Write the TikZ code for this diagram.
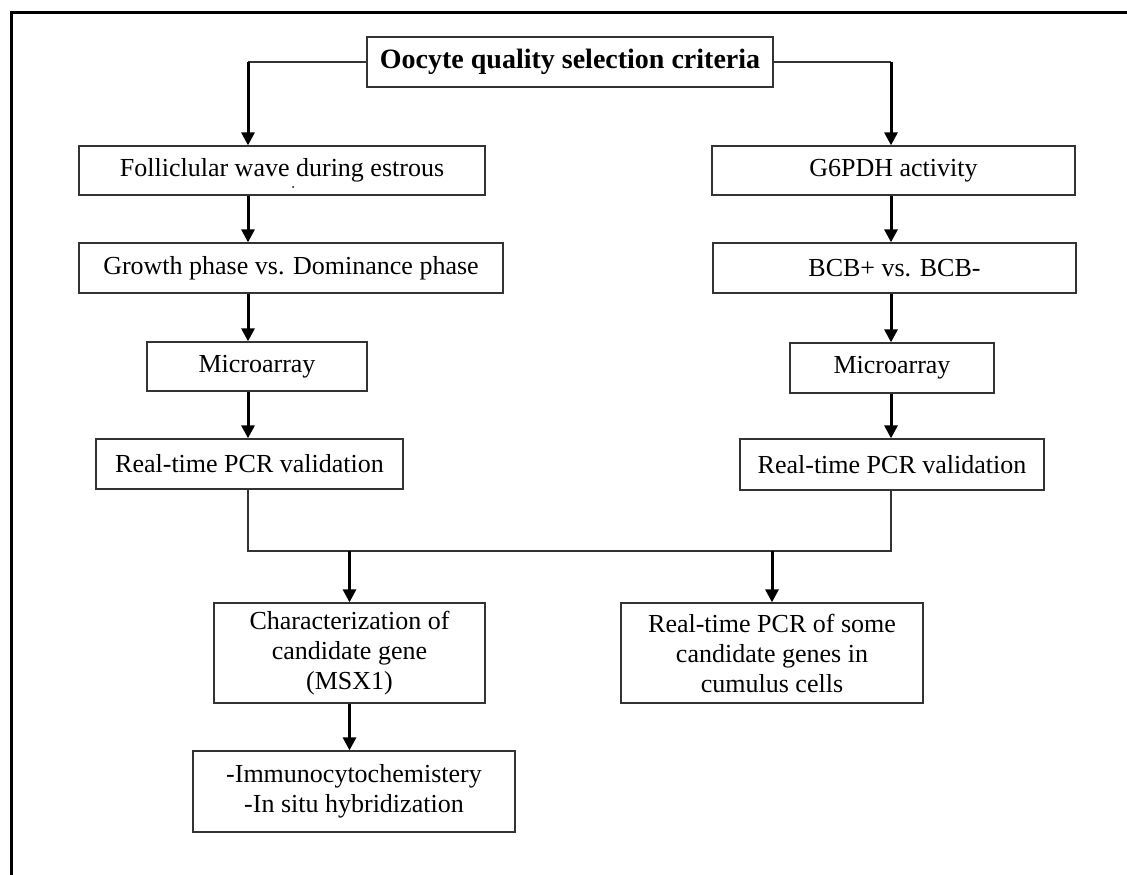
\documentclass[tikz,border=0pt]{standalone}
\usepackage{fontspec}
\setmainfont{Liberation Serif}
\usetikzlibrary{arrows.meta,positioning}

\begin{document}
\begin{tikzpicture}[
  x=1pt,y=-1pt,
  box/.style={draw=black!80,line width=1.3pt,align=center,inner sep=2pt,
    font=\fontsize{26}{30}\selectfont},
  link/.style={draw=black!80,line width=1.3pt},
  flow/.style={draw,->,line width=3pt},
  >={Triangle[length=13pt,width=13pt]}
]
\useasboundingbox (0,0) rectangle (1127,875);
% frame
\draw[line width=3pt] (11,875) -- (11,13) -- (1127,13);

% columns
\coordinate (colL) at (248,0);
\coordinate (colR) at (891,0);
\coordinate (mrg) at (0,551);

% top
\node[box,minimum width=406pt,minimum height=50pt,font=\fontsize{28}{32}\selectfont\bfseries] (crit) at (570,62) {Oocyte quality selection criteria};

% left branch
\node[box,minimum width=406pt,minimum height=49pt] (wave) at (282,170.5) {Folliclular wave during estrous};
\fill (293,187) circle (1pt);
\node[box,minimum width=424pt,minimum height=50pt] (phase) at (291,268) {Growth phase vs. Dominance phase};
\node[box,minimum width=220pt,minimum height=49pt] (arrL) at (257,366.5) {Microarray};
\node[box,minimum width=307pt,minimum height=50pt] (pcrL) at (249.5,464) {Real-time PCR validation};

% right branch
\node[box,minimum width=363pt,minimum height=49pt] (gpdh) at (893.5,170.5) {G6PDH activity};
\node[box,minimum width=363pt,minimum height=50pt] (bcb) at (894.5,268) {BCB+ vs. BCB-};
\node[box,minimum width=204pt,minimum height=50pt] (arrR) at (892,368) {Microarray};
\node[box,minimum width=304pt,minimum height=51pt] (pcrR) at (892,464.5) {Real-time PCR validation};

% bottom
\node[box,minimum width=271pt,minimum height=100pt] (gene) at (349.5,653) {Characterization of\\candidate gene\\(MSX1)};
\node[box,minimum width=302pt,minimum height=100pt] (cum) at (772,653) {Real-time PCR of some\\candidate genes in\\cumulus cells};
\node[box,minimum width=322pt,minimum height=81pt] (immu) at (354,791.5) {-Immunocytochemistery\\-In situ hybridization};

\draw[link] (crit.west) -- (crit.west -| colL);
\draw[link] (crit.east) -- (crit.east -| colR);
\draw[flow] (crit.west -| colL) -- (wave.north -| colL);
\draw[flow] (crit.east -| colR) -- (gpdh.north -| colR);

\draw[flow] (wave.south -| colL) -- (phase.north -| colL);
\draw[flow] (phase.south -| colL) -- (arrL.north -| colL);
\draw[flow] (arrL.south -| colL) -- (pcrL.north -| colL);
\draw[flow] (gpdh.south -| colR) -- (bcb.north -| colR);
\draw[flow] (bcb.south -| colR) -- (arrR.north -| colR);
\draw[flow] (arrR.south -| colR) -- (pcrR.north -| colR);

\draw[link] (pcrL.south -| colL) -- (colL |- mrg) -- (colR |- mrg) -- (pcrR.south -| colR);
\draw[flow] (gene.north |- mrg) -- (gene.north);
\draw[flow] (cum.north |- mrg) -- (cum.north);
\draw[flow] (gene.south) -- (immu.north -| gene.south);
\end{tikzpicture}
\end{document}
